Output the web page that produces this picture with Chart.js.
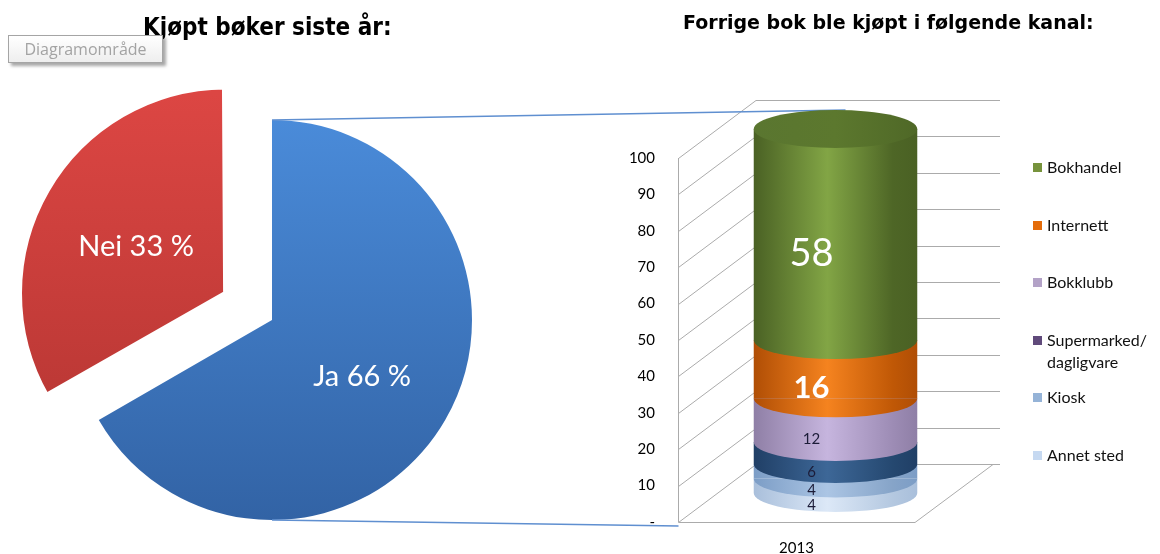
<!DOCTYPE html>
<html>
<head>
<meta charset="utf-8">
<script src="https://cdn.jsdelivr.net/npm/chart.js@4.4.0/dist/chart.umd.min.js"></script>
<style>
  html, body { margin: 0; padding: 0; background: #fff; }
  #wrap { position: relative; width: 1160px; height: 554px; overflow: hidden; }
  canvas { position: absolute; left: 0; top: 0; }
  .title { position: absolute; font-family: "DejaVu Sans", sans-serif; font-weight: bold; color: #000; line-height: 1; white-space: nowrap; }
  #t1 { left: 143px; top: 15px; font-size: 24px; font-stretch: condensed; }
  #t2 { left: 683px; top: 13px; font-size: 19px; }
  #legend { position: absolute; left: 1033px; top: 156px; font-family: Lato, sans-serif; font-size: 16px; color: #111; }
  .item { position: absolute; left: 0; line-height: 22px; white-space: pre; }
  .item i { position: absolute; left: 0; top: 7px; width: 9px; height: 9px; }
  .item span { position: absolute; left: 14px; top: 0; }
  #tip { position: absolute; left: 8px; top: 35px; width: 153px; height: 26px; border: 1px solid #a5a5a5;
         background: linear-gradient(#ffffff, #eeeeee); box-shadow: 3px 3px 3px rgba(0,0,0,0.35);
         font-family: "Open Sans", sans-serif; font-size: 16px; color: #a3a3a3; line-height: 26px; text-align: center; }
</style>
</head>
<body>
<div id="wrap">
  <canvas id="pie" width="1160" height="554"></canvas>
  <canvas id="bar" width="1160" height="554"></canvas>
  <div class="title" id="t1">Kjøpt bøker siste år:</div>
  <div class="title" id="t2">Forrige bok ble kjøpt i følgende kanal:</div>
  <div id="legend"></div>
  <div id="tip">Diagramområde</div>
</div>
<script>
// pie: bought books last year
const pieLabels = ["Ja", "Nei"];
const pieValues = [66, 33];

// column: channel of last purchase (bottom to top of the stack)
const years = ["2013"];
const channels = ["Annet sted", "Kiosk", "Supermarked/\ndagligvare", "Bokklubb", "Internett", "Bokhandel"];
const shares = [4, 4, 6, 12, 16, 58];

// colours
const pieColors = [["#4a8bd9", "#3263a5"], ["#dc4643", "#b23431"]];
const cylColors = [
  ["#a9bfdb", "#dce8f7", "#b4c8e0"],
  ["#7c9dc6", "#abc5e4", "#86a4c8"],
  ["#203f66", "#3d6797", "#254870"],
  ["#8f7fa6", "#c6b5de", "#9d8cb5"],
  ["#b04e05", "#f5831f", "#c05806"],
  ["#4a6124", "#82a545", "#4e6626"]
];
const legendColors = ["#c6d9f1", "#95b3d7", "#604a7b", "#b3a2c7", "#e46c0a", "#77933c"];
const labelFonts = [
  { size: 15, weight: "normal", color: "#1c1c38" },
  { size: 15, weight: "normal", color: "#1c1c38" },
  { size: 15, weight: "normal", color: "#1c1c38" },
  { size: 15, weight: "normal", color: "#1c1c38" },
  { size: 31, weight: "bold", color: "#ffffff" },
  { size: 38, weight: "normal", color: "#ffffff" }
];

const PIE_R = 200;
const DX = 39, DY = 29;      // 3d depth shift
const RY = 19;               // ellipse half height
const BAR_PCT = 0.69;

function pieFill(c) {
  const a = c.chart.chartArea;
  const col = pieColors[c.dataIndex];
  if (!a) return col[0];
  const cy = (a.top + a.bottom) / 2;
  const g = c.chart.ctx.createLinearGradient(0, cy - PIE_R, 0, cy + PIE_R);
  g.addColorStop(0, col[0]);
  g.addColorStop(1, col[1]);
  return g;
}

function cylFill(chart, i) {
  const a = chart.chartArea;
  const col = cylColors[i];
  if (!a) return col[1];
  const cx = (a.left + a.right) / 2;
  const w = (a.right - a.left) * BAR_PCT / 2;
  const g = chart.ctx.createLinearGradient(cx - w, 0, cx + w, 0);
  g.addColorStop(0, col[0]);
  g.addColorStop(0.45, col[1]);
  g.addColorStop(0.85, col[2]);
  g.addColorStop(1, col[0]);
  return g;
}

const pieText = {
  id: "pieText",
  afterDatasetsDraw(chart) {
    const ctx = chart.ctx;
    ctx.save();
    ctx.fillStyle = "#fff";
    ctx.font = "29px Lato, sans-serif";
    ctx.textAlign = "center";
    ctx.textBaseline = "middle";
    chart.getDatasetMeta(0).data.forEach((arc, i) => {
      const mid = (arc.startAngle + arc.endAngle) / 2;
      const r = (arc.options.offset || 0) / 4 + arc.outerRadius * 0.52;
      ctx.fillText(pieLabels[i] + " " + pieValues[i] + " %", arc.x + Math.cos(mid) * r, arc.y + Math.sin(mid) * r + 5);
    });
    ctx.restore();
  }
};

const pieChart = new Chart(document.getElementById("pie"), {
  type: "pie",
  data: {
    labels: pieLabels,
    datasets: [{
      data: pieValues,
      backgroundColor: pieFill,
      borderColor: "#ffffff",
      borderWidth: [0, 6],
      offset: [0, 212],
      radius: PIE_R
    }]
  },
  options: {
    responsive: false,
    animation: false,
    events: [],
    layout: { padding: { left: 0, right: 616, top: 86, bottom: 0 } },
    plugins: { legend: { display: false }, tooltip: { enabled: false } }
  },
  plugins: [pieText]
});

function line(ctx, x1, y1, x2, y2) {
  ctx.beginPath();
  ctx.moveTo(x1, y1);
  ctx.lineTo(x2, y2);
  ctx.stroke();
}

const cylinder = {
  id: "cylinder",
  beforeDatasetsDraw(chart) {
    const { ctx, chartArea: a, scales: { y } } = chart;
    const fx = Math.round(a.left - DX) + 0.5;
    const bx = a.left + DX;
    const y0 = y.getPixelForValue(0), y1 = y.getPixelForValue(100);
    ctx.save();
    ctx.strokeStyle = "#ababab";
    ctx.lineWidth = 1;
    y.ticks.forEach(t => {
      const py = Math.round(y.getPixelForValue(t.value)) + 0.5;
      line(ctx, fx, py + DY, bx, py - DY);
      line(ctx, bx, py - DY, a.right + DX + 7, py - DY);
    });
    line(ctx, fx, y0 + DY, fx, y1 + DY);
    line(ctx, fx, y0 + DY + 0.5, a.right - DX, y0 + DY + 0.5);
    line(ctx, a.right - DX, y0 + DY + 0.5, a.right + DX, y0 - DY + 0.5);

    // connectors from the "Ja" slice
    const arc = pieChart.getDatasetMeta(0).data[0];
    const top = chart.getDatasetMeta(chart.data.datasets.length - 1).data[0];
    ctx.strokeStyle = "#5f8fd0";
    ctx.lineWidth = 1.5;
    line(ctx, arc.x, arc.y - arc.outerRadius, top.x + 10, top.y - RY);
    line(ctx, arc.x, arc.y + arc.outerRadius, fx, y0 + DY + 4);
    ctx.restore();
  },
  afterDatasetsDraw(chart) {
    const ctx = chart.ctx;
    const n = chart.data.datasets.length;
    ctx.save();
    for (let i = 0; i < n; i++) {
      const el = chart.getDatasetMeta(i).data[0];
      ctx.fillStyle = el.options.backgroundColor;
      ctx.beginPath();
      ctx.ellipse(el.x, el.base, el.width / 2, RY, 0, 0, Math.PI);
      ctx.fill();
    }
    // top face
    const top = chart.getDatasetMeta(n - 1).data[0];
    const g = ctx.createLinearGradient(top.x - top.width / 2, 0, top.x + top.width / 2, 0);
    g.addColorStop(0, "#5a7630");
    g.addColorStop(0.5, "#5c782e");
    g.addColorStop(1, "#4f6827");
    ctx.fillStyle = g;
    ctx.beginPath();
    ctx.ellipse(top.x, top.y, top.width / 2, RY, 0, 0, Math.PI * 2);
    ctx.fill();

    // value labels
    ctx.textAlign = "center";
    ctx.textBaseline = "middle";
    for (let i = 0; i < n; i++) {
      const el = chart.getDatasetMeta(i).data[0];
      const f = labelFonts[i];
      ctx.font = f.weight + " " + f.size + "px Lato, sans-serif";
      ctx.fillStyle = f.color;
      ctx.fillText(String(shares[i]), el.x - 24, (el.y + el.base) / 2 + RY);
    }
    ctx.restore();
  }
};

const barChart = new Chart(document.getElementById("bar"), {
  type: "bar",
  data: {
    labels: years,
    datasets: channels.map((name, i) => ({
      label: name,
      data: [shares[i]],
      backgroundColor: c => cylFill(c.chart, i),
      borderWidth: 0,
      categoryPercentage: 1,
      barPercentage: BAR_PCT
    }))
  },
  options: {
    responsive: false,
    animation: false,
    events: [],
    layout: { padding: { left: 600, right: 206, top: 129, bottom: 0 } },
    scales: {
      x: {
        stacked: true,
        grid: { display: false, drawTicks: false },
        border: { display: false },
        ticks: { padding: 46, labelOffset: -DX, color: "#000", font: { family: "Lato", size: 15 } },
        afterFit: s => { s.height = 61; }
      },
      y: {
        stacked: true,
        min: 0,
        max: 100,
        grid: { display: false, drawTicks: false },
        border: { display: false },
        ticks: {
          stepSize: 10,
          padding: 62,
          labelOffset: DY,
          color: "#000",
          font: { family: "Lato", size: 15 },
          callback: v => (v === 0 ? "-" : v)
        },
        afterFit: s => { s.width = 117; s.paddingTop = 0; s.paddingBottom = 0; }
      }
    },
    plugins: { legend: { display: false }, tooltip: { enabled: false } }
  },
  plugins: [cylinder]
});

// legend, top item = top of the stack
const legend = document.getElementById("legend");
for (let k = 0; k < channels.length; k++) {
  const i = channels.length - 1 - k;
  const item = document.createElement("div");
  item.className = "item";
  item.style.top = (k * 57.5) + "px";
  const sw = document.createElement("i");
  sw.style.background = legendColors[i];
  const tx = document.createElement("span");
  tx.textContent = channels[i];
  item.appendChild(sw);
  item.appendChild(tx);
  legend.appendChild(item);
}
</script>
</body>
</html>
